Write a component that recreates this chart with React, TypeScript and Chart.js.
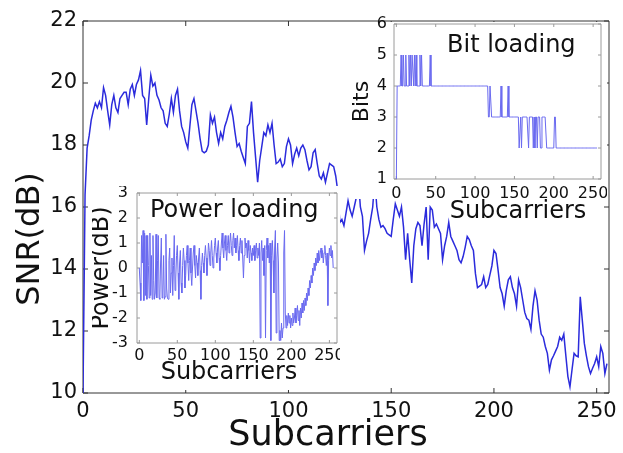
import React, { useEffect, useRef } from "react";
import { Chart, registerables } from "chart.js";

Chart.register(...registerables);

const FONT = "'DejaVu Sans', 'Liberation Sans', Arial, sans-serif";

// x positions: subcarrier index
const subcarriers = Array.from({ length: 256 }, (_, i) => i);

const mainXTicks = [0, 50, 100, 150, 200, 250];
const mainYTicks = [10, 12, 14, 16, 18, 20, 22];
const insetXTicks = [0, 50, 100, 150, 200, 250];
const powerYTicks = [-3, -2, -1, 0, 1, 2, 3];
const bitsYTicks = [1, 2, 3, 4, 5, 6];

// SNR (dB) per subcarrier
const snr = [
  10.0, 16.4, 17.9, 18.3, 18.8, 19.1, 19.35, 19.2, 19.4, 19.2,
  19.85, 19.6, 19.1, 18.65, 19.3, 19.6, 19.2, 19.05, 19.5, 19.6,
  19.7, 19.7, 19.3, 19.8, 19.95, 19.6, 19.95, 20.1, 20.4, 19.6,
  19.5, 18.65, 19.5, 20.25, 19.9, 20.0, 19.6, 19.45, 19.2, 19.1,
  18.7, 18.6, 19.0, 19.5, 19.05, 19.6, 19.8, 19.1, 18.6, 18.4,
  18.1, 17.9, 18.6, 19.3, 19.5, 19.1, 18.7, 18.2, 17.8, 17.75,
  17.8, 18.0, 18.97, 18.7, 18.9, 18.4, 18.05, 18.4, 18.2, 18.6,
  18.8, 19.05, 19.25, 18.9, 18.4, 17.95, 18.05, 17.8, 17.6, 17.4,
  18.6, 18.7, 19.4, 18.4, 17.6, 16.8, 17.5, 17.95, 18.4, 18.3,
  18.65, 18.4, 18.7, 18.0, 17.4, 17.45, 17.55, 17.3, 17.4, 17.95,
  18.2, 18.0, 17.4, 17.7, 17.9, 17.65, 17.9, 18.0, 17.85, 17.5,
  17.2, 17.3, 17.75, 17.85, 17.4, 17.0, 16.9, 17.1, 16.8, 17.1,
  17.4, 17.35, 17.3, 17.0, 16.5, 15.5, 15.6, 15.4, 15.8, 16.2,
  15.9, 15.7, 16.0, 16.3, 16.9, 16.0, 15.7, 14.6, 14.9, 15.15,
  15.6, 16.0, 16.9, 16.0, 15.6, 15.35, 15.4, 15.3, 15.15, 15.1,
  15.05, 15.6, 16.1, 15.9, 15.7, 16.0, 15.35, 14.3, 15.15, 14.3,
  13.55, 14.75, 15.3, 15.5, 15.4, 14.75, 15.45, 16.0, 14.3, 16.0,
  15.9, 15.35, 15.45, 15.3, 15.15, 14.3, 14.75, 15.05, 15.5, 15.05,
  14.9, 14.75, 14.6, 14.3, 14.2, 14.4, 14.7, 15.05, 14.95, 14.75,
  14.6, 13.85, 13.4, 13.45, 13.5, 13.75, 13.4, 13.5, 13.8, 14.1,
  14.6, 14.5, 13.97, 13.4, 13.2, 12.8, 13.3, 13.65, 13.75, 13.4,
  13.2, 12.8, 13.65, 13.4, 13.0, 12.6, 12.4, 12.35, 12.05, 12.8,
  13.3, 13.0, 12.35, 11.9, 11.8, 11.5, 11.28, 10.74, 11.07, 11.2,
  11.35, 11.5, 11.8, 11.7, 11.9, 11.2, 10.53, 10.2, 10.75, 11.28,
  11.2, 11.17, 13.1, 12.35, 11.6, 11.2, 10.85, 10.63, 10.8, 10.95,
  11.17, 10.85, 11.5, 11.28, 10.63, 10.95,
];

// Power loading (dB) per subcarrier
const power = [
  0.0, -0.6, -1.3, 1.3, 0.2, 1.5, -1.3, 1.4, -1.1, 1.3,
  -1.25, 1.3, 0.1, -1.2, 1.4, -1.1, 0.5, -1.25, 1.3, -0.5,
  -1.25, -1.0, 1.35, -1.2, 0.3, 1.3, -1.2, -1.25, 0.2, 1.2,
  -1.2, -1.0, 0.5, -1.25, -1.15, 1.35, -0.8, -1.2, -1.25, 0.3,
  0.8, -1.0, -0.2, 0.4, -1.1, 0.1, 1.3, -0.9, -0.4, 0.5,
  0.9, -0.2, -1.25, 0.2, 0.7, -0.6, -1.0, 0.1, 0.8, 0.3,
  -0.8, -0.3, 0.5, 0.9, 0.2, -0.5, 0.3, 0.8, -0.2, -0.7,
  0.0, 0.6, 0.9, 0.1, -0.4, 0.5, 0.2, -0.3, 0.4, 0.8,
  -0.1, -1.25, 0.1, 0.6, 0.2, -0.2, 0.5, 0.9, 0.4, -0.3,
  0.3, 1.0, 0.7, 0.1, 0.6, 1.1, 0.5, 0.0, 0.4, 0.9,
  1.2, 0.6, 0.2, 0.8, 1.1, 0.4, -0.1, 0.5, 1.0, 1.4,
  0.8, 0.4, 1.0, 1.3, 0.7, 0.3, 0.9, 1.3, 0.6, 1.0,
  1.4, 0.9, 0.5, 1.1, 1.4, 0.8, 1.2, 0.6, 0.9, 1.3,
  0.7, 0.3, 0.9, 1.2, 0.6, 1.1, 0.4, -0.4, 0.5, 1.2,
  0.8, 1.0, 0.4, 1.1, 0.7, 0.2, 0.9, 0.6, 0.3, 0.8,
  0.5, 0.9, 0.3, 0.7, 1.0, 0.4, 0.8, 0.5, 1.0, -2.8,
  0.6, 1.1, 0.3, 0.8, -0.3, 0.9, -2.8, 0.7, 1.2, 0.4,
  0.9, 0.2, 1.0, -2.9, 0.5, 1.1, 0.3, -1.0, 0.8, 1.5,
  -2.6, 0.4, 1.0, 0.2, -2.9, -2.5, -2.9, -2.2, -2.8, -2.4,
  0.6, 1.5, -1.8, -2.4, -1.9, -2.3, -1.8, -2.2, -1.9, -2.4,
  -2.0, -2.3, -1.8, -2.2, -2.0, -1.6, -2.2, -1.9, -1.5, -2.1,
  -1.7, -2.3, -1.6, -2.0, -1.4, -1.8, -1.3, -1.7, -1.2, -1.5,
  -1.0, -1.3, -0.8, -1.1, -0.5, -0.8, -0.3, -0.6, 0.0, -0.3,
  0.2, -0.1, 0.4, 0.1, 0.6, 0.2, 0.7, 0.3, 0.6, 0.8,
  0.4, 0.7, 0.2, 0.6, 0.9, 0.5, 0.1, 0.6, -1.5, 0.3,
  0.8, 0.5, 0.9, 0.4, 0.7, 0.0,
];

// Bit loading per subcarrier
const bits = [
  1, 4, 4, 4, 4, 4, 5, 4, 4, 5,
  4, 4, 5, 4, 4, 4, 5, 4, 5, 4,
  5, 5, 4, 5, 4, 5, 4, 4, 4, 4,
  5, 4, 5, 4, 4, 4, 4, 4, 4, 4,
  4, 4, 4, 5, 4, 4, 4, 4, 4, 4,
  4, 4, 4, 4, 4, 4, 4, 4, 4, 4,
  4, 4, 4, 4, 4, 4, 4, 4, 4, 4,
  4, 4, 4, 4, 4, 4, 4, 4, 4, 4,
  4, 4, 4, 4, 4, 4, 4, 4, 4, 4,
  4, 4, 4, 4, 4, 4, 4, 4, 4, 4,
  4, 4, 4, 4, 4, 4, 4, 4, 4, 4,
  4, 4, 4, 4, 4, 4, 4, 3, 3, 4,
  4, 3, 3, 3, 3, 3, 3, 3, 3, 3,
  3, 3, 3, 4, 3, 3, 3, 3, 3, 3,
  3, 3, 4, 3, 3, 3, 3, 3, 3, 3,
  3, 3, 3, 3, 3, 3, 2, 2, 3, 2,
  3, 3, 3, 3, 3, 3, 3, 3, 2, 3,
  3, 3, 3, 3, 2, 3, 2, 3, 3, 2,
  3, 3, 3, 2, 2, 3, 3, 3, 3, 3,
  3, 2, 2, 2, 2, 2, 2, 2, 2, 2,
  2, 3, 3, 2, 2, 2, 2, 2, 2, 2,
  2, 2, 2, 2, 2, 2, 2, 2, 2, 2,
  2, 2, 2, 2, 2, 2, 2, 2, 2, 2,
  2, 2, 2, 2, 2, 2, 2, 2, 2, 2,
  2, 2, 2, 2, 2, 2, 2, 2, 2, 2,
  2, 2, 2, 2, 2, 2,
];

const frame = (color: string, len: number, lw: number) => ({
  id: "frame",
  beforeDatasetsDraw(chart: any) {
    const { ctx, chartArea: a } = chart;
    const xs = chart.scales.x;
    const ys = chart.scales.y;
    ctx.save();
    ctx.strokeStyle = color;
    ctx.lineWidth = lw;
    ctx.beginPath();
    ctx.rect(a.left, a.top, a.right - a.left, a.bottom - a.top);
    for (const t of xs.ticks) {
      const p = xs.getPixelForValue(t.value);
      ctx.moveTo(p, a.bottom);
      ctx.lineTo(p, a.bottom - len);
      ctx.moveTo(p, a.top);
      ctx.lineTo(p, a.top + len);
    }
    for (const t of ys.ticks) {
      const p = ys.getPixelForValue(t.value);
      ctx.moveTo(a.left, p);
      ctx.lineTo(a.left + len, p);
      ctx.moveTo(a.right, p);
      ctx.lineTo(a.right - len, p);
    }
    ctx.stroke();
    ctx.restore();
  },
});

// white panel behind an inset: from `top` px to `below` px under the plot area
const whiteBg = (top: number, below: number | null) => ({
  id: "whitebg",
  beforeDraw(chart: any) {
    const { ctx, chartArea: a } = chart;
    const bottom = below === null ? chart.height : a.bottom + below;
    ctx.save();
    ctx.fillStyle = "#ffffff";
    ctx.fillRect(0, top, chart.width, bottom - top);
    ctx.restore();
  },
});

type TextItem = { text: string; x: number; y: number; size: number; rot?: number; align?: CanvasTextAlign };

// free text (inset headings, axis labels placed like the original)
const texts = (items: TextItem[]) => ({
  id: "texts",
  afterDraw(chart: any) {
    const { ctx } = chart;
    for (const it of items) {
      ctx.save();
      ctx.translate(it.x, it.y);
      if (it.rot) ctx.rotate(it.rot);
      ctx.font = `${it.size}px ${FONT}`;
      ctx.fillStyle = "#111";
      ctx.textAlign = it.align || "center";
      ctx.textBaseline = "middle";
      ctx.fillText(it.text, 0, 0);
      ctx.restore();
    }
  },
});

type AxisOpts = {
  min: number;
  max: number;
  ticks: number[];
  size: number;
  fontSize: number;
  pad: number;
  title?: string;
  titleSize?: number;
  titlePad?: any;
};

function axis(o: AxisOpts, isX: boolean) {
  return {
    type: "linear",
    min: o.min,
    max: o.max,
    afterBuildTicks: (s: any) => {
      s.ticks = o.ticks.map((v) => ({ value: v }));
    },
    afterFit: (s: any) => {
      if (isX) {
        s.height = o.size;
        s.paddingLeft = 0;
        s.paddingRight = 0;
      } else {
        s.width = o.size;
        s.paddingTop = 0;
        s.paddingBottom = 0;
      }
    },
    grid: { display: false, drawTicks: false },
    border: { display: false },
    ticks: {
      autoSkip: false,
      maxRotation: 0,
      minRotation: 0,
      padding: o.pad,
      color: "#111",
      font: { family: FONT, size: o.fontSize },
    },
    title: {
      display: !!o.title,
      text: o.title || "",
      color: "#111",
      padding: o.titlePad || 0,
      font: { family: FONT, size: o.titleSize || 12, lineHeight: 1 },
    },
  };
}

function build(
  canvas: HTMLCanvasElement,
  values: number[],
  color: string,
  lineWidth: number,
  padding: any,
  xo: AxisOpts,
  yo: AxisOpts,
  plugins: any[]
) {
  return new Chart(canvas, {
    type: "line",
    data: {
      labels: subcarriers,
      datasets: [
        {
          data: values,
          borderColor: color,
          borderWidth: lineWidth,
          pointRadius: 0,
          tension: 0,
          fill: false,
        },
      ],
    },
    options: {
      responsive: false,
      animation: false,
      devicePixelRatio: 1,
      layout: { padding },
      plugins: { legend: { display: false }, tooltip: { enabled: false } },
      scales: { x: axis(xo, true) as any, y: axis(yo, false) as any },
    } as any,
    plugins,
  });
}

const ROT = -Math.PI / 2;

export default function App() {
  const mainRef = useRef<HTMLCanvasElement>(null);
  const powerRef = useRef<HTMLCanvasElement>(null);
  const bitsRef = useRef<HTMLCanvasElement>(null);

  useEffect(() => {
    const charts: Chart[] = [];
    charts.push(
      build(
        mainRef.current!,
        snr,
        "#2b2bdc",
        1.5,
        { top: 21, right: 14, left: 0, bottom: 0 },
        { min: 0, max: 256, ticks: mainXTicks, size: 60, fontSize: 21, pad: 6 },
        { min: 10, max: 22, ticks: mainYTicks, size: 83, fontSize: 21, pad: 6 },
        [
          frame("#333", 5, 1),
          texts([
            { text: "Subcarriers", x: 328, y: 436, size: 35 },
            { text: "SNR(dB)", x: 31, y: 239, size: 32, rot: ROT },
          ]),
        ]
      )
    );
    charts.push(
      build(
        powerRef.current!,
        power,
        "#6a6af0",
        1,
        { top: 7, right: 3, left: 0, bottom: 0 },
        { min: -3, max: 260, ticks: insetXTicks, size: 47, fontSize: 16, pad: 3 },
        { min: -3, max: 3, ticks: powerYTicks, size: 45, fontSize: 16, pad: 9, title: "Power(dB)", titleSize: 24, titlePad: { top: -2, bottom: 0 } },
        [
          whiteBg(0, null),
          frame("#9a9a9a", 3, 1),
          texts([
            { text: "Power loading", x: 58, y: 25, size: 24, align: "left" },
            { text: "Subcarriers", x: 137, y: 187, size: 24 },
          ]),
        ]
      )
    );
    charts.push(
      build(
        bitsRef.current!,
        bits,
        "#6a6af0",
        1,
        { top: 12, right: 6, left: 0, bottom: 0 },
        { min: -3, max: 260, ticks: insetXTicks, size: 49, fontSize: 16, pad: 5 },
        { min: 1, max: 6, ticks: bitsYTicks, size: 42, fontSize: 16, pad: 7, title: "Bits", titleSize: 22, titlePad: { top: -1, bottom: 0 } },
        [
          whiteBg(10, 20),
          frame("#9a9a9a", 3, 1),
          texts([
            { text: "Bit loading", x: 95, y: 34, size: 24, align: "left" },
            { text: "Subcarriers", x: 166, y: 200, size: 24 },
          ]),
        ]
      )
    );
    return () => charts.forEach((c) => c.destroy());
  }, []);

  return (
    <div style={{ position: "fixed", left: 0, top: 0, width: 623, height: 453, background: "#fff", overflow: "hidden" }}>
      <canvas ref={mainRef} width={623} height={453} style={{ position: "absolute", left: 0, top: 0, display: "block" }} />
      <canvas ref={powerRef} width={248} height={204} style={{ position: "absolute", left: 92, top: 186, display: "block" }} />
      <canvas ref={bitsRef} width={255} height={216} style={{ position: "absolute", left: 352, top: 12, display: "block" }} />
    </div>
  );
}
